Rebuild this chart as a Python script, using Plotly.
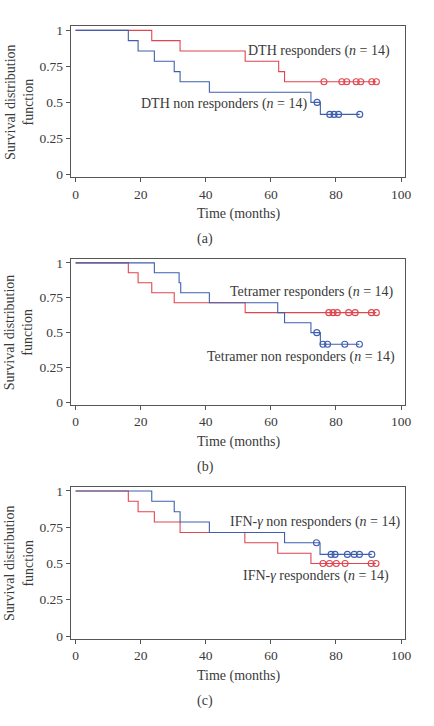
import plotly.graph_objects as go

# ---------------- data ----------------
x_ticks = [0, 20, 40, 60, 80, 100]
y_ticks = [0, 0.25, 0.5, 0.75, 1]
y_tick_labels = ["0", "0.25", "0.5", "0.75", "1"]

# Panel (a) DTH
dth_resp_times = [23.4, 32.1, 52.1, 62.4, 64.2]
dth_resp_surv = [0.929, 0.857, 0.786, 0.714, 0.643]
dth_resp_censor = [76.3, 81.8, 83.3, 86.2, 87.6, 91.0, 92.4]

dth_non_times = [16.2, 19.2, 24.2, 30.3, 32.1, 41.1, 72.3, 75.2]
dth_non_surv = [0.929, 0.857, 0.786, 0.714, 0.643, 0.571, 0.5, 0.417]
dth_non_censor = [74.2, 78.1, 79.4, 80.8, 87.3]

# Panel (b) Tetramer
tet_resp_times = [16.2, 19.2, 23.4, 30.3, 52.1]
tet_resp_surv = [0.929, 0.857, 0.786, 0.714, 0.643]
tet_resp_censor = [77.8, 79.1, 80.4, 83.9, 85.9, 90.9, 92.4]

tet_non_times = [24.2, 31.8, 32.3, 41.1, 62.1, 64.2, 72.3, 75.2]
tet_non_surv = [0.929, 0.857, 0.786, 0.714, 0.643, 0.571, 0.5, 0.417]
tet_non_censor = [74.1, 76.0, 77.4, 82.7, 87.2]

# Panel (c) IFN-gamma
ifn_non_times = [23.4, 30.3, 32.1, 41.1, 64.2, 75.1]
ifn_non_surv = [0.929, 0.857, 0.786, 0.714, 0.643, 0.5625]
ifn_non_censor = [74.0, 78.5, 79.7, 83.5, 85.6, 87.2, 91.0]

ifn_resp_times = [16.2, 19.2, 24.2, 32.1, 52.0, 62.1, 72.3]
ifn_resp_surv = [0.929, 0.857, 0.786, 0.714, 0.643, 0.571, 0.5]
ifn_resp_censor = [76.0, 78.0, 80.1, 82.8, 90.8, 92.3]

RED = "#e0464f"
BLUE = "#3f5fae"
TXT = "#3a3a3a"
FONT = "Liberation Serif"

W, H = 434, 726


def px_x(p):
    return p / W


def px_y(p):
    return 1 - p / H


fig = go.Figure()


def add_curve(times, surv, censor, color, ax):
    end = max(censor)
    xs = [0] + list(times) + [end]
    ys = [1] + list(surv) + [surv[-1]]
    fig.add_trace(go.Scatter(x=xs, y=ys, mode="lines", line=dict(color=color, width=1.1, shape="hv"),
                             xaxis="x" + ax, yaxis="y" + ax, showlegend=False, hoverinfo="skip"))
    cy = []
    for c in censor:
        v = 1.0
        for t, s in zip(times, surv):
            if t <= c:
                v = s
        cy.append(v)
    fig.add_trace(go.Scatter(x=censor, y=cy, mode="markers",
                             marker=dict(symbol="circle-open", size=6, color=color, line=dict(width=1.1, color=color)),
                             xaxis="x" + ax, yaxis="y" + ax, showlegend=False, hoverinfo="skip"))


add_curve(dth_resp_times, dth_resp_surv, dth_resp_censor, RED, "")
add_curve(dth_non_times, dth_non_surv, dth_non_censor, BLUE, "")
add_curve(tet_resp_times, tet_resp_surv, tet_resp_censor, RED, "2")
add_curve(tet_non_times, tet_non_surv, tet_non_censor, BLUE, "2")
add_curve(ifn_resp_times, ifn_resp_surv, ifn_resp_censor, RED, "3")
add_curve(ifn_non_times, ifn_non_surv, ifn_non_censor, BLUE, "3")

# panel boxes in pixels: (top, bottom)
boxes = [(23.3, 176.3), (258.5, 406.7), (489.0, 643.0)]
xdom = [px_x(71.7), px_x(411.0)]

ax_common = dict(showline=True, mirror=True, linecolor="#555555", linewidth=1, ticks="outside",
                 ticklen=4, tickcolor="#555555", showgrid=False, zeroline=False,
                 tickfont=dict(family=FONT, size=13.5, color=TXT))

layout = dict(width=W, height=H, margin=dict(l=0, r=0, t=0, b=0), paper_bgcolor="white",
              plot_bgcolor="white", font=dict(family=FONT, size=14, color=TXT))

anns = []
labels = ["(a)", "(b)", "(c)"]
for i, (top, bot) in enumerate(boxes):
    sfx = "" if i == 0 else str(i + 1)
    layout["xaxis" + sfx] = dict(ax_common, domain=xdom, range=[-1.5, 101.3], tickvals=x_ticks,
                                 anchor="y" + sfx)
    layout["yaxis" + sfx] = dict(ax_common, domain=[px_y(bot), px_y(top)], range=[-0.02, 1.03],
                                 tickvals=y_ticks, ticktext=y_tick_labels, anchor="x" + sfx)
    mid = (top + bot) / 2
    anns.append(dict(x=px_x(19.5), y=px_y(mid), xref="paper", yref="paper", textangle=-90,
                     xanchor="center", yanchor="middle",
                     text="Survival distribution<br>function", showarrow=False,
                     font=dict(family=FONT, size=14, color=TXT)))
    anns.append(dict(x=px_x(241.4), y=px_y(bot + 37.5), xref="paper", yref="paper",
                     xanchor="center", yanchor="middle",
                     text="Time (months)", showarrow=False, font=dict(family=FONT, size=14, color=TXT)))
    anns.append(dict(x=px_x(208), y=px_y(bot + 62.5), xref="paper", yref="paper",
                     xanchor="center", yanchor="middle",
                     text=labels[i], showarrow=False, font=dict(family=FONT, size=14, color=TXT)))

curve_labels = [
    ("DTH responders (<i>n</i> = 14)", 398, 49),
    ("DTH non responders (<i>n</i> = 14)", 313.5, 101.7),
    ("Tetramer responders (<i>n</i> = 14)", 402, 292.3),
    ("Tetramer non responders (<i>n</i> = 14)", 403, 358.3),
    ("IFN-<i>γ</i> non responders (<i>n</i> = 14)", 408, 524.3),
    ("IFN-<i>γ</i> responders (<i>n</i> = 14)", 396.7, 579.3),
]
for txt, xr, yc in curve_labels:
    anns.append(dict(x=px_x(xr), y=px_y(yc), xref="paper", yref="paper", xanchor="right",
                     yanchor="middle", text=txt, showarrow=False,
                     font=dict(family=FONT, size=14, color=TXT)))

layout["annotations"] = anns
fig.update_layout(**layout)
fig.write_html("out.html", config={"displayModeBar": False},
               post_script="document.body.style.margin='0';document.body.style.padding='0';")
